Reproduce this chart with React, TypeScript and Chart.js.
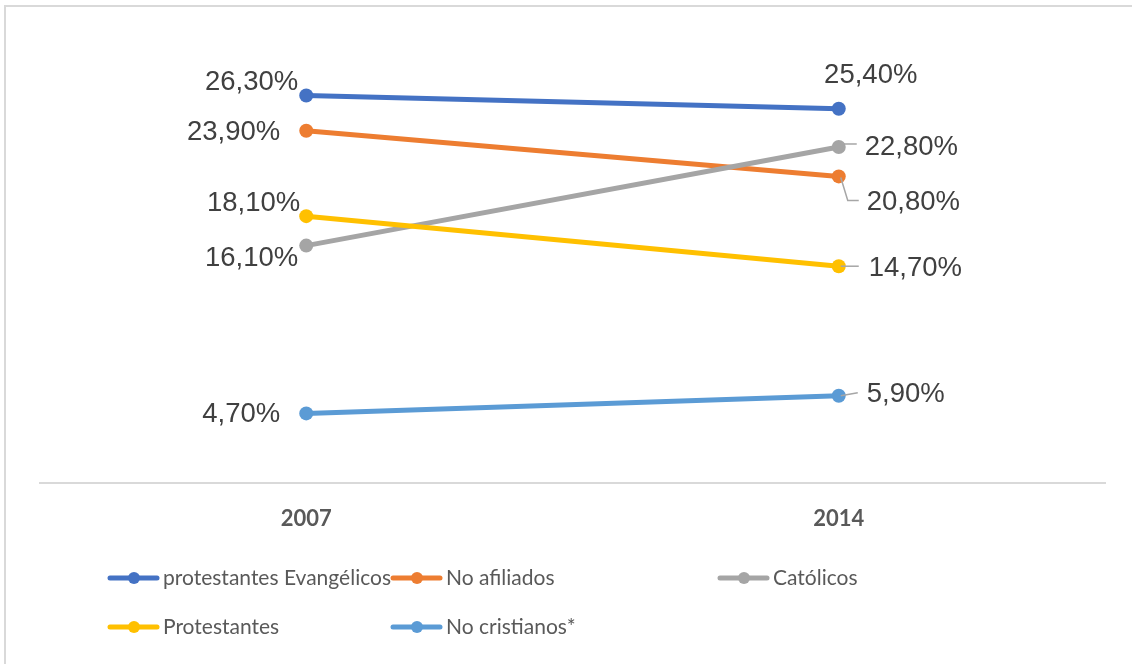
import React, { useEffect, useRef } from 'react';
import { Chart, registerables } from 'chart.js';

Chart.register(...registerables);

const categories = ['2007', '2014'];
const seriesNames = ['protestantes Evangélicos', 'No afiliados', 'Católicos', 'Protestantes', 'No cristianos*'];
const evangelicos = [26.3, 25.4];
const noAfiliados = [23.9, 20.8];
const catolicos = [16.1, 22.8];
const protestantes = [18.1, 14.7];
const noCristianos = [4.7, 5.9];
const seriesValues = [evangelicos, noAfiliados, catolicos, protestantes, noCristianos];
const colors = ['#4472C4', '#ED7D31', '#A5A5A5', '#FFC000', '#5B9BD5'];

// label placement relative to each point (layout only)
type LabelSpec = { align: CanvasTextAlign; dx: number; dy: number; leader?: number[][] };
const labelLayout: LabelSpec[][] = [
  [{ align: 'right', dx: -8, dy: -13 }, { align: 'center', dx: 32, dy: -33 }],
  [{ align: 'right', dx: -26, dy: 2 }, { align: 'left', dx: 28, dy: 26, leader: [[2, 1], [9, 24], [20, 24]] }],
  [{ align: 'right', dx: -8, dy: 13 }, { align: 'left', dx: 26, dy: 0, leader: [[2, -3], [18, -3]] }],
  [{ align: 'right', dx: -6, dy: -13 }, { align: 'left', dx: 30, dy: 2, leader: [[2, 0], [20, 0]] }],
  [{ align: 'right', dx: -26, dy: 1 }, { align: 'left', dx: 28, dy: -1, leader: [[2, 0], [19, -3]] }],
];
const legendSlots = [
  [110, 578], [393, 578], [720, 578], [110, 627], [393, 627],
];

const fmt = (v: number) => v.toFixed(2).replace('.', ',') + '%';

const labelPlugin = {
  id: 'excelLabels',
  afterDatasetsDraw(chart: any) {
    const ctx = chart.ctx as CanvasRenderingContext2D;
    ctx.save();
    chart.data.datasets.forEach((ds: any, di: number) => {
      const meta = chart.getDatasetMeta(di);
      meta.data.forEach((pt: any, i: number) => {
        const spec = labelLayout[di][i];
        if (spec.leader) {
          ctx.strokeStyle = '#A6A6A6';
          ctx.lineWidth = 1.5;
          ctx.beginPath();
          spec.leader.forEach((p, k) => {
            if (k === 0) ctx.moveTo(pt.x + p[0], pt.y + p[1]);
            else ctx.lineTo(pt.x + p[0], pt.y + p[1]);
          });
          ctx.stroke();
        }
        ctx.fillStyle = '#404040';
        ctx.font = '27.5px "Liberation Sans", Arial, sans-serif';
        ctx.textAlign = spec.align;
        ctx.textBaseline = 'middle';
        ctx.fillText(fmt(ds.data[i]), pt.x + spec.dx, pt.y + spec.dy);
      });
    });
    ctx.restore();
  },
  afterDraw(chart: any) {
    const ctx = chart.ctx as CanvasRenderingContext2D;
    ctx.save();
    chart.data.datasets.forEach((ds: any, di: number) => {
      const [x, y] = legendSlots[di];
      ctx.strokeStyle = ds.borderColor;
      ctx.lineWidth = 5;
      ctx.lineCap = 'round';
      ctx.beginPath();
      ctx.moveTo(x, y);
      ctx.lineTo(x + 47, y);
      ctx.stroke();
      ctx.fillStyle = ds.borderColor;
      ctx.beginPath();
      ctx.arc(x + 24, y, 6, 0, Math.PI * 2);
      ctx.fill();
      ctx.fillStyle = '#595959';
      ctx.font = '21px Lato, "Open Sans", sans-serif';
      ctx.textAlign = 'left';
      ctx.textBaseline = 'middle';
      ctx.fillText(ds.label, x + 53, y);
    });
    ctx.restore();
  },
};

export default function App() {
  const ref = useRef<HTMLCanvasElement>(null);
  useEffect(() => {
    const chart = new Chart(ref.current!, {
      type: 'line',
      data: {
        labels: categories,
        datasets: seriesValues.map((vals, i) => ({
          label: seriesNames[i],
          data: vals,
          borderColor: colors[i],
          backgroundColor: colors[i],
          pointBackgroundColor: colors[i],
          pointBorderColor: colors[i],
          pointRadius: 7,
          pointBorderWidth: 0,
          borderWidth: 5,
          tension: 0,
          clip: false as any,
          order: 4 - i,
        })),
      },
      options: {
        responsive: false,
        animation: false,
        devicePixelRatio: 1,
        layout: { padding: { left: 40, right: 27, top: 41, bottom: 109 } },
        plugins: { legend: { display: false }, tooltip: { enabled: false } },
        scales: {
          x: {
            offset: true,
            grid: { color: 'transparent', drawTicks: false },
            border: { display: true, color: '#D9D9D9', width: 2 },
            ticks: {
              padding: 23,
              color: '#595959',
              font: { family: 'Lato, "Open Sans", sans-serif', size: 22, weight: 'bold' },
              maxRotation: 0,
            },
          },
          y: { display: false, min: 0, max: 30 },
        },
      },
      plugins: [labelPlugin],
    });
    return () => chart.destroy();
  }, []);
  return (
    <div style={{ position: 'fixed', left: 0, top: 0, width: 1132, height: 664, background: '#fff', overflow: 'hidden' }}>
      <div style={{ position: 'absolute', left: 4, top: 5, width: 1160, height: 700, borderLeft: '2px solid #D9D9D9', borderTop: '2px solid #D9D9D9' }} />
      <canvas ref={ref} width={1132} height={664} style={{ position: 'absolute', left: 0, top: 0 }} />
    </div>
  );
}
